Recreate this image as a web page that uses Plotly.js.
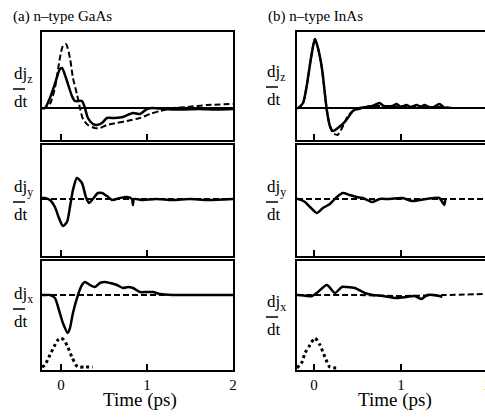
<!DOCTYPE html>
<html>
<head>
<meta charset="utf-8">
<script src="https://cdn.plot.ly/plotly-3.0.1.min.js"></script>
<style>
html,body{margin:0;padding:0;overflow:hidden;background:#fff;}
#chart{width:492px;height:417px;}
</style>
</head>
<body>
<div id="chart"></div>
<script>
// ---------- data (time in ps, signal in arbitrary units) ----------
// (a) n-type GaAs, dj_z/dt
const a1SolidT = [-0.22,-0.186,-0.128,-0.07,-0.012,0.012,0.07,0.128,0.163,0.244,0.279,0.314,0.372,0.419,0.477,0.535,0.628,0.721,0.837,0.919,1.0,1.07,1.2,1.4,1.6,1.8,2.0];
const a1SolidV = [0,0,10,24,39,40,27,12,7,7,0,-10,-16,-17,-15,-10,-10,-9,-5,-6,-1,0,-1,-1.5,-1,-1.5,-1];
const a1DashT = [-0.22,-0.186,-0.128,-0.07,-0.012,0.023,0.058,0.105,0.14,0.186,0.221,0.256,0.314,0.395,0.453,0.535,0.651,0.767,0.919,1.035,1.151,1.30,1.465,1.70,2.0];
const a1DashV = [0,0,4,20,50,62,64,50,30,14,0,-11,-17,-20,-20,-17,-15,-13,-10,-6,-3,0,1,3,4];
// (a) dj_y/dt
const a2SolidT = [-0.22,-0.186,-0.128,-0.07,-0.023,0.023,0.07,0.105,0.14,0.186,0.244,0.29,0.326,0.372,0.43,0.477,0.535,0.593,0.686,0.767,0.825,0.837,0.85,0.95,1.1,1.3,1.5,1.7,2.0];
const a2SolidV = [1,1,-1,-8,-19,-27,-23,-8,9,21,16,2,-4,0,6,6,3,-1,1,2,0,-6,0,-1,0,-1,0,-1,0];
const a2DashT = [-0.22,2.0];
const a2DashV = [0,0];
// (a) dj_x/dt and pulse
const a3SolidT = [-0.22,-0.186,-0.128,-0.07,-0.023,0.023,0.08,0.105,0.14,0.198,0.244,0.279,0.337,0.395,0.453,0.512,0.57,0.651,0.721,0.779,0.837,0.919,1.0,1.07,1.151,1.3,1.5,1.7,2.0];
const a3SolidV = [0,0,0,-3,-15,-28,-38,-33,-18,0,10,13,10,8,12,13,12,10,7,8,7,3,3,3,1,0,0,0,0];
const a3DashT = [-0.22,2.0];
const a3DashV = [0,0];
const a3PulseT = [-0.22,-0.186,-0.128,-0.07,-0.035,0,0.035,0.08,0.128,0.174,0.2,0.28,0.37];
const a3PulseV = [-72,-70,-60,-50,-45,-43,-45,-52,-62,-70,-72,-72,-72];
// (b) n-type InAs, dj_z/dt
const b1SolidT = [-0.195,-0.183,-0.126,-0.08,-0.034,0.011,0.046,0.091,0.126,0.149,0.183,0.217,0.274,0.331,0.389,0.446,0.526,0.606,0.674,0.754,0.8,0.9,0.95,1.0,1.06,1.12,1.18,1.23,1.27,1.32,1.38,1.44,1.5];
const b1SolidV = [0,0,5,24,50,69,60,40,14,-3,-18,-23,-20,-16,-10,-3,0,1,2,5,2,2,4,1,3,1,3,1,3,1,1,4,0];
const b1DashT = [-0.195,-0.183,-0.126,-0.08,-0.034,0.011,0.046,0.091,0.126,0.149,0.183,0.22,0.27,0.31,0.35,0.39,0.45,0.52,0.6,0.7,0.8,0.9,1.0,1.1,1.2,1.3,1.4,1.5,1.6,1.7,1.8,1.9,2.0];
const b1DashV = [0,0,5,24,50,69,60,40,14,-3,-18,-25,-27,-22,-15,-8,-3,-1,1,2,2,1,2,1,2,1,1,1,0,0,0,0,0];
// (b) dj_y/dt
const b2SolidT = [-0.195,-0.183,-0.103,-0.046,0.034,0.103,0.183,0.263,0.331,0.411,0.491,0.56,0.674,0.754,0.869,1.017,1.131,1.291,1.44,1.497,1.51];
const b2SolidV = [0,0,-3,-8,-14,-9,-5,2,6,4,2,1,-3,0,0,1,-2,0,1,-6,0];
const b2DashT = [-0.195,2.0];
const b2DashV = [0,0];
// (b) dj_x/dt and pulse
const b3SolidT = [-0.195,-0.183,-0.023,0.046,0.149,0.24,0.32,0.377,0.469,0.583,0.674,0.789,0.949,1.063,1.154,1.234,1.303,1.44,1.474];
const b3SolidV = [0,0,-1,3,10,2,8,8,7,2,0,-1,-3,-2,-1,-4,0,-1,-2];
const b3DashT = [-0.195,0.5,1.0,1.5,2.0];
const b3DashV = [0,0,-1,0,1];
const b3PulseT = [-0.195,-0.137,-0.103,-0.046,0.011,0.069,0.126,0.183,0.274];
const b3PulseV = [-73,-67,-58,-50,-43,-50,-62,-72,-73];

const xTicks = [0,1,2];
const panelTitles = ['(a) n\u2013type GaAs','(b) n\u2013type InAs'];
const compLabels = ['z','y','x'];
const xTitle = 'Time (ps)';

// ---------- layout helpers ----------
const W = 492, H = 417;
const FONT = "'Liberation Serif', 'Times New Roman', Times, serif";
const px = v => v / W;
const py = v => 1 - v / H;

const solid = {color:'#000', width:2.5, shape:'spline', smoothing:0.7};
const dashed = {color:'#000', width:2, dash:'6px,3px', shape:'spline', smoothing:0.7};
const dotted = {color:'#000', width:3, dash:'dot', shape:'spline', smoothing:0.7};

function tr(t, v, line, k){
  return {x:t, y:v, type:'scatter', mode:'lines', line:line, xaxis:'x'+(k===1?'':k), yaxis:'y'+(k===1?'':k), hoverinfo:'skip', showlegend:false};
}

const data = [
  tr(a1DashT,a1DashV,dashed,1), tr(a1SolidT,a1SolidV,solid,1),
  tr(a2DashT,a2DashV,dashed,2), tr(a2SolidT,a2SolidV,solid,2),
  tr(a3DashT,a3DashV,dashed,3), tr(a3SolidT,a3SolidV,solid,3), tr(a3PulseT,a3PulseV,dotted,3),
  tr(b1DashT,b1DashV,dashed,4), tr(b1SolidT,b1SolidV,solid,4),
  tr(b2DashT,b2DashV,dashed,5), tr(b2SolidT,b2SolidV,solid,5),
  tr(b3DashT,b3DashV,dashed,6), tr(b3SolidT,b3SolidV,solid,6), tr(b3PulseT,b3PulseV,dotted,6)
];

// panel pixel boxes
const colX = [[42,233],[297,488]];
const colRange = [[-0.22,2.0],[-0.195,2.0]];
const rowY = [[32,140],[145,256],[261,370]];
const rowRange = [[-32,76],[-57,54],[-75,34]];

const layout = {
  width:W, height:H, margin:{l:0,r:0,t:0,b:0},
  paper_bgcolor:'#fff', plot_bgcolor:'#fff',
  font:{family:FONT, color:'#000'},
  annotations:[], shapes:[]
};

for (let c=0;c<2;c++){
  for (let r=0;r<3;r++){
    const k = c*3 + r + 1;
    const sfx = k===1 ? '' : k;
    layout['xaxis'+sfx] = {
      domain:[px(colX[c][0]), px(colX[c][1])], range:colRange[c], anchor:'y'+sfx,
      showline:true, mirror:true, linewidth:2, linecolor:'#000',
      ticks:'inside', ticklen:6, tickwidth:1.5, tickcolor:'#000',
      tickvals:xTicks, ticktext:xTicks.map(String),
      showticklabels:(r===2), tickfont:{family:FONT, size:15, color:'#000'},
      showgrid:false, zeroline:false, fixedrange:true
    };
    layout['yaxis'+sfx] = {
      domain:[py(rowY[r][1]), py(rowY[r][0])], range:rowRange[r], anchor:'x'+sfx,
      showline:true, mirror:true, linewidth:2, linecolor:'#000',
      ticks:'', showticklabels:false, showgrid:false,
      zeroline:(r===0), zerolinecolor:'#000', zerolinewidth:1.5, fixedrange:true
    };
  }
}

// panel titles
layout.annotations.push({text:panelTitles[0], xref:'paper', yref:'paper', x:px(11), y:py(17), xanchor:'left', yanchor:'middle', showarrow:false, font:{family:FONT,size:15,color:'#000'}});
layout.annotations.push({text:panelTitles[1], xref:'paper', yref:'paper', x:px(266), y:py(17), xanchor:'left', yanchor:'middle', showarrow:false, font:{family:FONT,size:15,color:'#000'}});
// x titles
layout.annotations.push({text:xTitle, xref:'paper', yref:'paper', x:px(140), y:py(400), xanchor:'center', yanchor:'middle', showarrow:false, font:{family:FONT,size:19,color:'#000'}});
layout.annotations.push({text:xTitle, xref:'paper', yref:'paper', x:px(395), y:py(400), xanchor:'center', yanchor:'middle', showarrow:false, font:{family:FONT,size:19,color:'#000'}});

// dj/dt labels: bar y positions per panel
const barY = [[89,202,309],[87,202,317]];
const labX = [13,266];
for (let c=0;c<2;c++){
  for (let r=0;r<3;r++){
    const b = barY[c][r], x0 = labX[c];
    layout.annotations.push({text:'dj<sub>'+compLabels[r]+'</sub>', xref:'paper', yref:'paper', x:px(x0-1), y:py(b-1), xanchor:'left', yanchor:'bottom', showarrow:false, font:{family:FONT,size:17,color:'#000'}});
    layout.annotations.push({text:'dt', xref:'paper', yref:'paper', x:px(x0-1), y:py(b+1), xanchor:'left', yanchor:'top', showarrow:false, font:{family:FONT,size:17,color:'#000'}});
    layout.shapes.push({type:'line', xref:'paper', yref:'paper', x0:px(x0), x1:px(x0+12), y0:py(b), y1:py(b), line:{color:'#000', width:1.5}});
  }
}

Plotly.newPlot('chart', data, layout, {staticPlot:true, displayModeBar:false});
</script>
</body>
</html>
